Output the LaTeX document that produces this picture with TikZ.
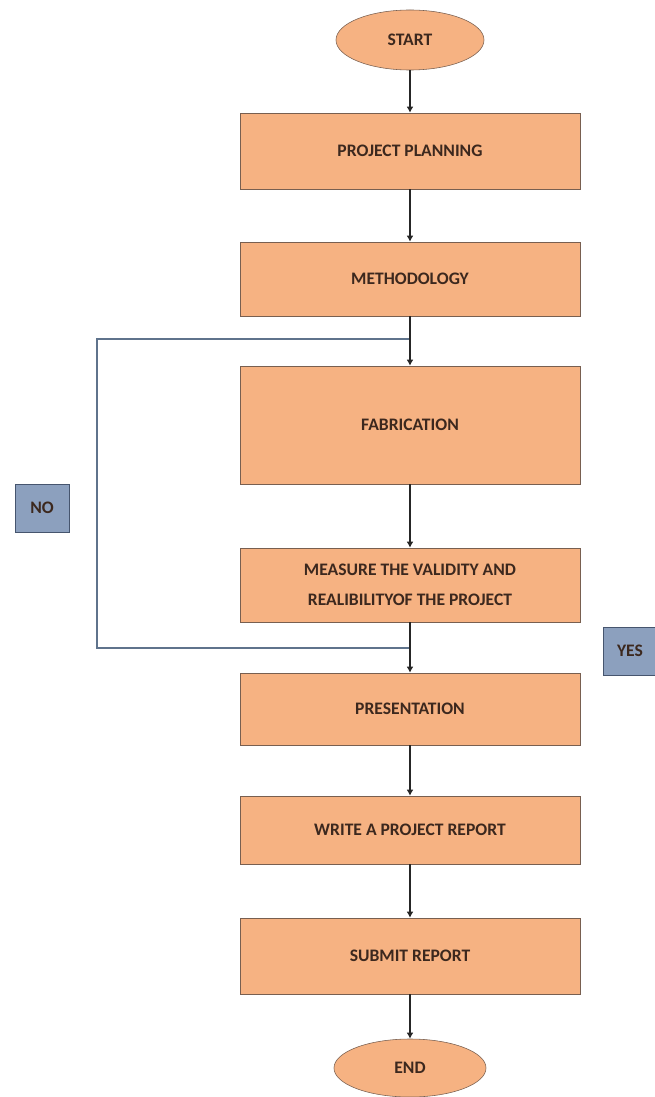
\documentclass[tikz,border=0pt]{standalone}
\usepackage{fontspec}
\setmainfont{Carlito}
\usetikzlibrary{arrows.meta,positioning,shapes.geometric}
\definecolor{boxfill}{RGB}{246,178,130}
\definecolor{boxline}{RGB}{120,95,80}
\definecolor{tagfill}{RGB}{140,160,190}
\definecolor{tagline}{RGB}{70,85,110}
\definecolor{loopcol}{RGB}{95,115,140}
\definecolor{txtcol}{RGB}{60,40,30}
\tikzset{
  >={Latex[length=1.5mm,width=1.7mm]},
  font=\fontsize{12.5}{15}\selectfont\bfseries,
  stepbox/.style={draw=boxline, fill=boxfill, text=txtcol, align=center,
                  minimum width=8.5cm, minimum height=1.9cm, inner sep=2pt},
  termnode/.style={ellipse, draw=boxline, fill=boxfill, text=txtcol,
                   minimum width=3.7cm, minimum height=1.5cm, inner sep=0pt},
  tagnode/.style={draw=tagline, fill=tagfill, text=txtcol,
                  minimum width=1.35cm, minimum height=1.2cm, inner sep=1pt},
  arr/.style={->, thick, black!85},
  loopline/.style={thick, loopcol},
}

\begin{document}
\begin{tikzpicture}[x=0.025cm,y=-0.025cm]
  \useasboundingbox (0,0) rectangle (654,1097);
  \node[termnode] (start) at (410,40) {START};
  \node[stepbox] (plan) at (410,151) {PROJECT PLANNING};
  \node[stepbox, minimum height=1.85cm] (method) at (410,279) {METHODOLOGY};
  \node[stepbox, minimum height=2.95cm] (fab) at (410,425) {FABRICATION};
  \node[stepbox, minimum height=1.85cm] (measure) at (410,585)
        {MEASURE THE VALIDITY AND\\[6pt]REALIBILITYOF THE PROJECT};
  \node[stepbox, minimum height=1.8cm] (present) at (410,709) {PRESENTATION};
  \node[stepbox, minimum height=1.7cm] (report) at (410,830) {WRITE A PROJECT REPORT};
  \node[stepbox] (submit) at (410,956) {SUBMIT REPORT};
  \node[termnode, minimum width=3.8cm, minimum height=1.45cm] (end) at (410,1068) {END};
  \node[tagnode] (no) at (42,508) {NO};
  \node[tagnode] (yes) at (630,651) {YES};
  % loop back
  \coordinate (ltop) at (410,339);
  \coordinate (lbot) at (410,648);
  \coordinate (lleft) at (97,648);
  \draw[loopline] (lbot) -- (lleft) |- (ltop);
  % main flow
  \draw[arr] (start) -- (plan);
  \draw[arr] (plan) -- (method);
  \draw[arr] (method) -- (fab);
  \draw[arr] (fab) -- (measure);
  \draw[arr] (measure) -- (present);
  \draw[arr] (present) -- (report);
  \draw[arr] (report) -- (submit);
  \draw[arr] (submit) -- (end);
\end{tikzpicture}
\end{document}
